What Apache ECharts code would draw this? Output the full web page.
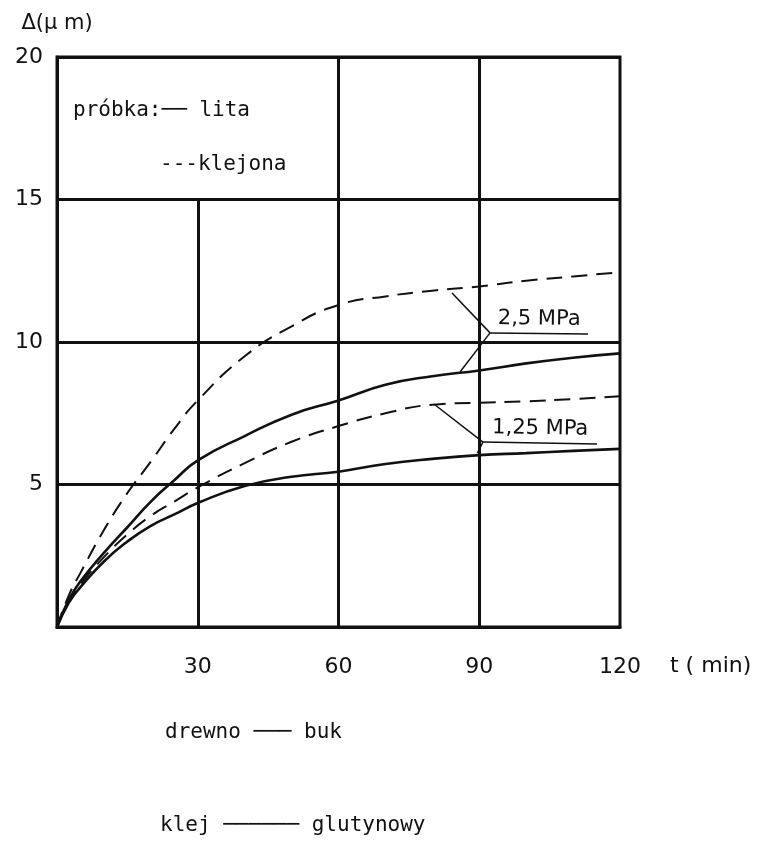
<!DOCTYPE html>
<html>
<head>
<meta charset="utf-8">
<script src="https://cdn.jsdelivr.net/npm/echarts@6/dist/echarts.min.js"></script>
<style>
  html, body { margin: 0; padding: 0; background: #fff; }
  #main { width: 766px; height: 844px; }
</style>
</head>
<body>
<div id="main"></div>
<script>
// czas (min)
var times = [0, 2.5, 5, 10, 15, 20, 25, 30, 40, 50, 60, 70, 80, 90, 100, 110, 120];
// ugięcie (um)
var klejona25 = [0, 1.1, 1.9, 3.4, 4.7, 5.8, 6.95, 7.95, 9.5, 10.55, 11.3, 11.6, 11.8, 11.95, 12.15, 12.3, 12.45];
var lita25    = [0, 0.95, 1.6, 2.6, 3.5, 4.4, 5.15, 5.85, 6.7, 7.45, 7.95, 8.5, 8.8, 9.0, 9.25, 9.45, 9.6];
var klejona125 = [0, 0.9, 1.5, 2.45, 3.25, 3.9, 4.4, 4.9, 5.75, 6.5, 7.05, 7.5, 7.8, 7.87, 7.92, 8.0, 8.1];
var lita125    = [0, 0.85, 1.4, 2.3, 3.0, 3.55, 3.95, 4.35, 4.95, 5.27, 5.45, 5.72, 5.9, 6.03, 6.1, 6.18, 6.25];

var xTicks = [30, 60, 90, 120];
var yTicks = [5, 10, 15, 20];

// linie siatki pionowe: [t, od, do]
var vLines = [[30, 0, 15], [60, 0, 20], [90, 0, 20]];

// odnośniki do opisów
var lead25 = [[84.2, 11.72], [92.3, 10.32], [85.9, 8.95]];
var under25 = [[92.3, 10.32], [113.2, 10.28]];
var lead125 = [[80.6, 7.79], [90.8, 6.49], [89.6, 6.1]];
var under125 = [[90.8, 6.49], [115.1, 6.42]];

var FONT = 'DejaVu Sans';
var MONO = '21px "DejaVu Sans Mono"';

function pairs(xs, ys) {
  var out = [];
  for (var i = 0; i < xs.length; i++) out.push([xs[i], ys[i]]);
  return out;
}

function seg(a, b, text) {
  return [
    { coord: a, label: text ? { show: true, formatter: text, position: 'insideMiddleTop', distance: 4,
        color: '#111', fontSize: 21, fontFamily: FONT } : { show: false } },
    { coord: b }
  ];
}

var myChart = echarts.init(document.getElementById('main'));

var solidStyle = { color: '#111', width: 2.6, type: 'solid' };
var dashStyle = { color: '#111', width: 2, type: [16, 9] };

var gridMarks = [];
for (var i = 0; i < vLines.length; i++) {
  gridMarks.push(seg([vLines[i][0], vLines[i][1]], [vLines[i][0], vLines[i][2]]));
}
var annoMarks = [
  seg(lead25[0], lead25[1]), seg(lead25[1], lead25[2]), seg(under25[0], under25[1], '2,5 MPa'),
  seg(lead125[0], lead125[1]), seg(lead125[1], lead125[2]), seg(under125[0], under125[1], '1,25 MPa')
];

option = {
  animation: false,
  backgroundColor: '#fff',
  textStyle: { fontFamily: FONT },
  grid: {
    left: 57, right: 146, top: 57, bottom: 217,
    show: true, borderColor: '#111', borderWidth: 3
  },
  xAxis: {
    type: 'value',
    min: 0, max: 120, interval: 30,
    name: 't ( min)',
    nameLocation: 'end',
    nameGap: 50,
    nameTextStyle: { color: '#111', fontSize: 22, fontFamily: FONT, verticalAlign: 'top', padding: [28, 0, 0, 0] },
    axisLine: { show: true, lineStyle: { color: '#111', width: 3 } },
    axisTick: { show: false },
    splitLine: { show: false },
    axisLabel: {
      color: '#111', fontSize: 22, fontFamily: FONT, margin: 29,
      formatter: function (v) { return xTicks.indexOf(v) >= 0 ? String(v) : ''; }
    }
  },
  yAxis: {
    type: 'value',
    min: 0, max: 20, interval: 5,
    name: 'Δ(μ m)',
    nameLocation: 'end',
    nameGap: 23,
    nameTextStyle: { color: '#111', fontSize: 21, fontFamily: FONT, align: 'center' },
    axisLine: { show: true, lineStyle: { color: '#111', width: 3 } },
    axisTick: { show: false },
    splitLine: { show: true, lineStyle: { color: '#111', width: 3 } },
    axisLabel: {
      color: '#111', fontSize: 22, fontFamily: FONT, margin: 14,
      formatter: function (v) { return yTicks.indexOf(v) >= 0 ? String(v) : ''; }
    }
  },
  series: [
    {
      name: 'klejona 2,5 MPa', type: 'line', smooth: 0.5, symbol: 'none',
      data: pairs(times, klejona25), lineStyle: dashStyle,
      markLine: {
        silent: true, symbol: ['none', 'none'],
        lineStyle: { color: '#111', width: 3, type: 'solid' },
        data: gridMarks
      }
    },
    {
      name: 'lita 2,5 MPa', type: 'line', smooth: 0.5, symbol: 'none',
      data: pairs(times, lita25), lineStyle: solidStyle,
      markLine: {
        silent: true, symbol: ['none', 'none'],
        lineStyle: { color: '#111', width: 1.5, type: 'solid' },
        data: annoMarks
      }
    },
    {
      name: 'klejona 1,25 MPa', type: 'line', smooth: 0.5, symbol: 'none',
      data: pairs(times, klejona125), lineStyle: dashStyle
    },
    {
      name: 'lita 1,25 MPa', type: 'line', smooth: 0.5, symbol: 'none',
      data: pairs(times, lita125), lineStyle: solidStyle
    }
  ],
  graphic: [
    { type: 'text', left: 73, top: 100, style: { text: 'próbka:── lita', fill: '#111', font: MONO } },
    { type: 'text', left: 160, top: 154, style: { text: '---klejona', fill: '#111', font: MONO } },
    { type: 'text', left: 165, top: 722, style: { text: 'drewno ─── buk', fill: '#111', font: MONO } },
    { type: 'text', left: 160, top: 815, style: { text: 'klej ────── glutynowy', fill: '#111', font: MONO } }
  ]
};

myChart.setOption(option);
</script>
</body>
</html>
